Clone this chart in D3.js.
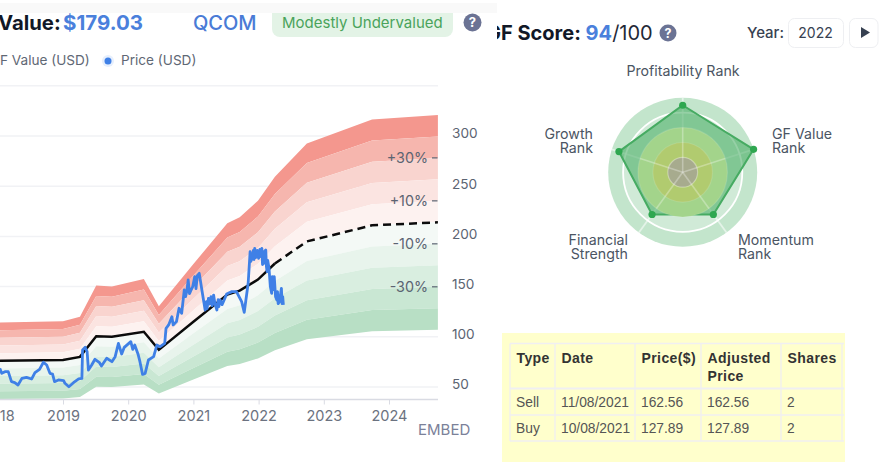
<!DOCTYPE html>
<html><head><meta charset="utf-8">
<script src="https://cdnjs.cloudflare.com/ajax/libs/d3/7.8.5/d3.min.js"></script>
<style>html,body{margin:0;padding:0;background:#fff;overflow:hidden}svg{display:block}text{font-family:Inter,"Noto Sans",sans-serif}</style>
</head><body><svg id="c" width="879" height="462"></svg>
<script>
const yearTicks=[2018,2019,2020,2021,2022,2023,2024];
const valueTicks=[50,100,150,200,250,300,350];
const bandYears=[2017.9,2019,2019.26,2019.51,2019.75,2020.24,2020.47,2021,2021.52,2021.71,2021.99,2022.25,2022.74,2023.74,2024.75];
const gfValue=[76,77,80,100.5,100,105,87,115,142,146,157,173,195,211,214];
const plus50=[114,115.5,120,151,150,157.5,130.5,172.5,213,219,235.5,259.5,292.5,316.5,321];
const plus40=[106.4,107.8,112,140.7,140,147,121.8,161,198.8,204.4,219.8,242.2,273,295.4,299.6];
const plus30=[98.8,100.1,104,130.7,130,136.5,113.1,149.5,184.6,189.8,204.1,224.9,253.5,274.3,278.2];
const plus20=[91.2,92.4,96,120.6,120,126,104.4,138,170.4,175.2,188.4,207.6,234,253.2,256.8];
const plus10=[83.6,84.7,88,110.6,110,115.5,95.7,126.5,156.2,160.6,172.7,190.3,214.5,232.1,235.4];
const minus10=[68.4,69.3,72,90.5,90,94.5,78.3,103.5,127.8,131.4,141.3,155.7,175.5,189.9,192.6];
const minus20=[60.8,61.6,64,80.4,80,84,69.6,92,113.6,116.8,125.6,138.4,156,168.8,171.2];
const minus30=[53.2,53.9,56,70.4,70,73.5,60.9,80.5,99.4,102.2,109.9,121.1,136.5,147.7,149.8];
const minus40=[45.6,46.2,48,60.3,60,63,52.2,69,85.2,87.6,94.2,103.8,117,126.6,128.4];
const minus50=[38,38.5,40,50.3,50,52.5,43.5,57.5,71,73,78.5,86.5,97.5,105.5,107];
const lastSolidIndex=11;
const priceYears=[2018.03,2018.06,2018.11,2018.16,2018.21,2018.26,2018.31,2018.37,2018.44,2018.52,2018.57,2018.64,2018.70,2018.75,2018.80,2018.84,2018.87,2018.93,2019.01,2019.03,2019.09,2019.16,2019.24,2019.29,2019.30,2019.34,2019.37,2019.39,2019.44,2019.49,2019.56,2019.59,2019.67,2019.75,2019.80,2019.85,2019.90,2019.94,2020.04,2020.07,2020.10,2020.15,2020.18,2020.22,2020.26,2020.31,2020.39,2020.44,2020.49,2020.56,2020.58,2020.62,2020.64,2020.67,2020.69,2020.74,2020.78,2020.82,2020.86,2020.88,2020.90,2020.92,2020.94,2020.96,2020.99,2021.02,2021.04,2021.06,2021.09,2021.13,2021.18,2021.20,2021.21,2021.23,2021.25,2021.27,2021.29,2021.31,2021.33,2021.36,2021.38,2021.39,2021.41,2021.44,2021.46,2021.51,2021.59,2021.66,2021.74,2021.78,2021.84,2021.87,2021.88,2021.90,2021.92,2021.93,2021.94,2021.96,2021.98,2022.00,2022.02,2022.03,2022.05,2022.06,2022.08,2022.09,2022.11,2022.12,2022.13,2022.14,2022.16,2022.18,2022.20,2022.21,2022.22,2022.24,2022.26,2022.28,2022.29,2022.30,2022.32,2022.35,2022.36,2022.37,2022.38];
const priceValues=[68.6,63.6,65.3,65.3,55.3,54.3,52,58.6,59.6,58,64.3,67.6,74.6,71.9,63.6,62.9,55.3,57,56.3,53.7,50.3,54.3,58,58.6,86.9,89.5,85.2,66.9,71.9,77.6,74.2,70.9,78.6,75.2,80.2,93.5,82.9,89.5,95.2,87.5,91.8,82.9,75.2,62.6,63.6,76.9,80.2,91.8,90.2,93.5,108.4,111.8,115.1,120,111.8,115.1,128.4,123.4,146.6,140,145.6,156.6,143,146,150,159.9,148,161,163.2,146.6,126.7,135,128,138.3,132.7,140,131,141.6,133,126.7,137,130,136.7,132,135,142.6,145,145,135,124.4,153.3,184.8,175,178.2,186,177,188.1,179,186,178.2,187,180,188.1,172,173.2,185,186.5,170,164.9,176,168.2,150,143.3,160,147,159.9,140,136.7,145,133,135,148.3,133,140,131.7];
const bandEdges=[plus50,plus40,plus30,plus20,plus10,gfValue,minus10,minus20,minus30,minus40,minus50];
const bandColors=["#f4978e","#f6b6ae","#f9d4cf","#fbe4e1","#fdf2f0","#f4f9f6","#e8f4ec","#d9eee0","#c9e7d3","#b8dfc5"];
const pctLabels=["+30%","+10%","-10%","-30%"];
const pctValues=[278.2,235.4,192.6,149.8];
const radarAxes=[["Profitability Rank"],["GF Value","Rank"],["Momentum","Rank"],["Financial","Strength"],["Growth","Rank"]];
const radarScores=[9,10,7,7,9];
const radarOuterRings=[10,8];
const radarOuterColors=["#c3e5cc","#d0ead7"];
const radarInnerRings=[6,4,2];
const radarInnerColors=["#a3d48b","#b1cb6f","#a7ab8e"];
const tableCols=["Type","Date","Price($)","Adjusted|Price","Shares"];
const tableRows=[["Sell","11/08/2021","162.56","162.56","2"],["Buy","10/08/2021","127.89","127.89","2"]];

const svg=d3.select("#c");
const x=d3.scaleLinear().domain([2019,2024]).range([63,389]);
const y=d3.scaleLinear().domain([50,300]).range([387,136]);
const plotLeft=0,plotRight=438,axisY=399.5;

svg.append("rect").attr("x",0).attr("y",3).attr("width",497).attr("height",10).attr("fill","#f9f9f9");

svg.append("g").selectAll("line").data(valueTicks).join("line")
 .attr("x1",plotLeft).attr("x2",plotRight).attr("y1",d=>y(d)).attr("y2",d=>y(d))
 .attr("stroke","#f1f2f5").attr("stroke-width",1.5);

const area=d3.area().x((d,i)=>x(bandYears[i])).y0(d=>y(d[1])).y1(d=>y(d[0]));
bandColors.forEach((c,k)=>{
  const pts=bandEdges[k].map((v,i)=>[v,bandEdges[k+1][i]]);
  svg.append("path").attr("d",area(pts)).attr("fill",c);
});

const line=d3.line().x(d=>x(d[0])).y(d=>y(d[1]));
const gfPts=bandYears.map((t,i)=>[t,gfValue[i]]);
svg.append("path").attr("d",line(gfPts.slice(0,lastSolidIndex+1))).attr("fill","none").attr("stroke","#0b0b0b").attr("stroke-width",2.5);
svg.append("path").attr("d",line(gfPts.slice(lastSolidIndex))).attr("fill","none").attr("stroke","#0b0b0b").attr("stroke-width",2.5).attr("stroke-dasharray","8,5");

svg.append("path").attr("d",line(priceYears.map((t,i)=>[t,priceValues[i]]))).attr("fill","none").attr("stroke","#3f80e6").attr("stroke-width",2.8).attr("stroke-linejoin","round");

const xAxis=svg.append("g").attr("transform",`translate(0,${axisY})`)
 .call(d3.axisBottom(x).tickValues(yearTicks).tickFormat(d3.format("d")).tickSize(5).tickSizeOuter(0));
xAxis.select(".domain").remove();
xAxis.append("line").attr("x1",0).attr("x2",plotRight).attr("stroke","#d9dbe3").attr("stroke-width",1.5);
xAxis.selectAll(".tick line").attr("stroke","#d9dbe3");
xAxis.selectAll("text").attr("y",11).attr("font-size",14.5).attr("fill","#6b7280").attr("font-family","Inter");

const yAxis=svg.append("g").attr("transform",`translate(452,0)`)
 .call(d3.axisRight(y).tickValues([50,100,150,200,250,300]).tickSize(0).tickPadding(0));
yAxis.select(".domain").remove();
yAxis.selectAll("text").attr("dy","0.32em").attr("y",-2.5).attr("font-size",13.6).attr("fill","#5b6472").attr("font-family","Inter");

pctLabels.forEach((t,i)=>{
 svg.append("text").attr("x",428).attr("y",y(pctValues[i])).attr("dy","0.36em").attr("text-anchor","end").attr("font-size",14.3).attr("fill","#5b6472").text(t);
 svg.append("line").attr("x1",432).attr("x2",437.5).attr("y1",y(pctValues[i])).attr("y2",y(pctValues[i])).attr("stroke","#5b6472").attr("stroke-width",1.2);
});

function tx(s,xx,yy,size,fill,w,anchor){return svg.append("text").attr("x",xx).attr("y",yy).attr("font-size",size).attr("fill",fill).attr("font-weight",w||400).attr("text-anchor",anchor||"start").text(s);}
tx("Value:",-2,30,20.3,"#111827",700);
tx("$179.03",63,30,20.5,"#4a80dc",700);
tx("QCOM",193,30,20,"#4a7bd6",500);
svg.append("path").attr("d","M272,13H453V29a8,8 0 0 1 -8,8H280a8,8 0 0 1 -8,-8Z").attr("fill","#e3f3e6");
tx("Modestly Undervalued",282,28,15,"#4aa35b",400);
function qmark(cx,cy,r,size){svg.append("circle").attr("cx",cx).attr("cy",cy).attr("r",r).attr("fill","#6b7394");
 tx("?",cx,cy+size*0.36,size,"#fff",700,"middle");}
qmark(472.5,22.5,9,13);
tx("F Value (USD)",0,65,13.6,"#5f6875");
svg.append("circle").attr("cx",108).attr("cy",61).attr("r",6).attr("fill","#e6effd");
svg.append("circle").attr("cx",108).attr("cy",61).attr("r",3.5).attr("fill","#3f80e6");
tx("Price (USD)",121,65,13.6,"#5f6875");
tx("EMBED",418,435,15,"#7b8199");

svg.append("clipPath").attr("id","rc").append("rect").attr("x",497).attr("y",0).attr("width",382).attr("height",462);
const g=svg.append("text").attr("x",486).attr("y",40).attr("font-size",20).attr("clip-path","url(#rc)");
g.append("tspan").attr("font-weight",700).attr("fill","#111827").text("GF Score: ");
g.append("tspan").attr("font-weight",700).attr("fill","#4a80dc").text("94");
g.append("tspan").attr("fill","#1f2937").text("/100");
qmark(668,33,8.5,12.5);
tx("Year:",747,38,15,"#374151",500);
svg.append("rect").attr("x",788.5).attr("y",18.5).attr("width",55).attr("height",29).attr("rx",6).attr("fill","#fff").attr("stroke","#eeeff2");
tx("2022",815.5,37.5,14,"#374151",400,"middle");
svg.append("rect").attr("x",849.5).attr("y",18.5).attr("width",28.5).attr("height",29).attr("rx",6).attr("fill","#fff").attr("stroke","#eeeff2");
svg.append("path").attr("d","M861,27L870,32.5L861,38Z").attr("fill","#374151");

const cx=682.7,cy=172.3;
const r=d3.scaleLinear().domain([0,10]).range([0,74.5]);
const ang=i=>i*2*Math.PI/radarAxes.length;
radarOuterRings.forEach((v,i)=>svg.append("circle").attr("cx",cx).attr("cy",cy).attr("r",r(v)).attr("fill",radarOuterColors[i]));
svg.append("circle").attr("cx",cx).attr("cy",cy).attr("r",r(8)).attr("fill","none").attr("stroke","#fff").attr("stroke-width",1.8);
const poly=radarScores.map((s,i)=>[cx+r(s)*Math.sin(ang(i)),cy-r(s)*Math.cos(ang(i))]);
radarAxes.forEach((a,i)=>svg.append("line").attr("x1",cx).attr("y1",cy)
 .attr("x2",cx+r(10)*Math.sin(ang(i))).attr("y2",cy-r(10)*Math.cos(ang(i))).attr("stroke","#fff").attr("stroke-opacity",.55).attr("stroke-width",1.8));
svg.append("polygon").attr("points",poly.map(p=>p.join(",")).join(" ")).attr("fill","#3fa95c").attr("fill-opacity",.55).attr("stroke","#46ab62").attr("stroke-width",2);
radarInnerRings.forEach((v,i)=>svg.append("circle").attr("cx",cx).attr("cy",cy).attr("r",r(v)).attr("fill",radarInnerColors[i]).attr("stroke","#fff").attr("stroke-opacity",i==2?.35:.12).attr("stroke-width",1.2));
radarAxes.forEach((a,i)=>svg.append("line").attr("x1",cx).attr("y1",cy)
 .attr("x2",cx+r(6)*Math.sin(ang(i))).attr("y2",cy-r(6)*Math.cos(ang(i))).attr("stroke","#fff").attr("stroke-opacity",.3).attr("stroke-width",1.6));
poly.forEach(p=>svg.append("circle").attr("cx",p[0]).attr("cy",p[1]).attr("r",3.6).attr("fill","#2fa750"));
const labelPos=[[683,76,"middle"],[772,139,"start"],[738,245,"start"],[628,245,"end"],[593,139,"end"]];
radarAxes.forEach((a,i)=>{const lp=labelPos[i];a.forEach((t,j)=>tx(t,lp[0],lp[1]+j*14,14.2,"#4b5563",400,lp[2]));});

svg.append("rect").attr("x",502).attr("y",333).attr("width",343).attr("height",129).attr("fill","#ffffcc");
const colX=[510,555,635,701,781,842],rowY=[343.5,388.5,415,441];
const bc="#f0eff2";
colX.forEach(v=>svg.append("line").attr("x1",v).attr("x2",v).attr("y1",rowY[0]).attr("y2",rowY[3]).attr("stroke",bc).attr("stroke-width",1.3));
rowY.forEach((v,i)=>svg.append("line").attr("x1",colX[0]).attr("x2",844).attr("y1",v).attr("y2",v).attr("stroke",bc).attr("stroke-width",i==1?2:1.3));
const tf="'Liberation Sans',Arial,sans-serif";
tableCols.forEach((c,i)=>c.split("|").forEach((t,j)=>tx(t,colX[i]+6.5,363+j*18,14,"#333",700).style("font-family",tf).attr("letter-spacing",.4)));
tableRows.forEach((row,k)=>row.forEach((t,i)=>tx(t,colX[i]+6,407+k*26,13.8,"#555",400).style("font-family",tf)));
</script></body></html>
